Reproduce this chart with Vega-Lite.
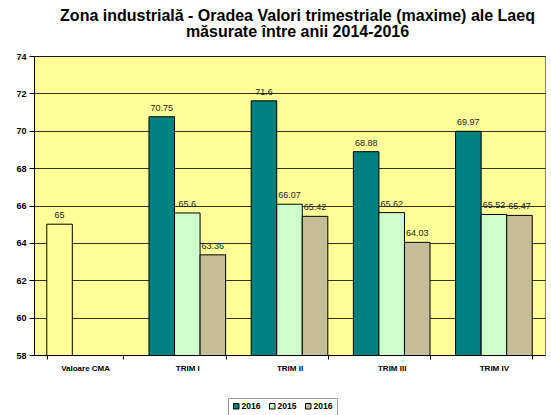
{
  "$schema": "https://vega.github.io/schema/vega-lite/v6.json",
  "width": 511,
  "height": 299,
  "autosize": {"type": "none"},
  "padding": {"left": 34, "top": 56, "right": 6, "bottom": 60},
  "background": "white",
  "title": {
    "text": ["Zona industrială - Oradea Valori trimestriale (maxime) ale Laeq", "măsurate între anii 2014-2016"],
    "font": "Liberation Sans",
    "fontSize": 16,
    "fontWeight": "bold",
    "color": "black",
    "anchor": "middle",
    "dx": 8,
    "offset": 12,
    "lineHeight": 16
  },
  "data": {
    "values": [
      {"cat": "Valoare CMA", "slot": "A", "key": "CMA", "value": 65},
      {"cat": "TRIM I", "slot": "A", "key": "A", "value": 70.75},
      {"cat": "TRIM I", "slot": "B", "key": "B", "value": 65.6},
      {"cat": "TRIM I", "slot": "C", "key": "C", "value": 63.36},
      {"cat": "TRIM II", "slot": "A", "key": "A", "value": 71.6},
      {"cat": "TRIM II", "slot": "B", "key": "B", "value": 66.07},
      {"cat": "TRIM II", "slot": "C", "key": "C", "value": 65.42},
      {"cat": "TRIM III", "slot": "A", "key": "A", "value": 68.88},
      {"cat": "TRIM III", "slot": "B", "key": "B", "value": 65.62},
      {"cat": "TRIM III", "slot": "C", "key": "C", "value": 64.03},
      {"cat": "TRIM IV", "slot": "A", "key": "A", "value": 69.97},
      {"cat": "TRIM IV", "slot": "B", "key": "B", "value": 65.52},
      {"cat": "TRIM IV", "slot": "C", "key": "C", "value": 65.47}
    ]
  },
  "encoding": {
    "x": {
      "field": "cat",
      "type": "nominal",
      "sort": ["Valoare CMA", "TRIM I", "TRIM II", "TRIM III", "TRIM IV"],
      "scale": {"paddingInner": 0.25, "paddingOuter": 0.125},
      "axis": {
        "title": null,
        "labelAngle": 0,
        "labelFont": "Liberation Sans",
        "labelFontSize": 8,
        "labelFontWeight": "bold",
        "labelColor": "black",
        "labelPadding": 5,
        "tickBand": "extent",
        "tickColor": "black",
        "tickSize": 4,
        "domainColor": "black",
        "grid": false
      }
    },
    "xOffset": {"field": "slot", "type": "nominal", "scale": {"domain": ["A", "B", "C"]}},
    "y": {
      "field": "value",
      "type": "quantitative",
      "scale": {"domain": [58, 74], "zero": false, "nice": false},
      "axis": {
        "title": null,
        "values": [58, 60, 62, 64, 66, 68, 70, 72, 74],
        "labelFont": "Liberation Sans",
        "labelFontSize": 9,
        "labelFontWeight": "bold",
        "labelColor": "black",
        "labelPadding": 3,
        "tickColor": "black",
        "tickSize": 5,
        "domainColor": "black",
        "gridColor": "black",
        "gridWidth": 0.8,
        "gridOpacity": 1
      }
    }
  },
  "layer": [
    {
      "mark": {"type": "bar", "stroke": "black", "strokeWidth": 1, "clip": true},
      "encoding": {
        "color": {
          "field": "key",
          "type": "nominal",
          "scale": {"domain": ["A", "B", "C", "CMA"], "range": ["#008080", "#CCFFCC", "#C4BD97", "#FFFF99"]},
          "legend": {
            "values": ["A", "B", "C"],
            "labelExpr": "datum.value == 'B' ? '2015' : '2016'",
            "title": null,
            "orient": "none",
            "legendX": 194,
            "legendY": 342,
            "direction": "horizontal",
            "symbolType": "square",
            "symbolSize": 30,
            "symbolStrokeColor": "black",
            "symbolStrokeWidth": 1,
            "symbolOpacity": 1,
            "labelFont": "Liberation Sans",
            "labelFontSize": 8.5,
            "labelFontWeight": "bold",
            "labelColor": "black",
            "labelOffset": 1,
            "columnPadding": 6,
            "strokeColor": "#999999",
            "padding": 4
          }
        }
      }
    },
    {
      "mark": {"type": "text", "dy": -9, "font": "Liberation Sans", "fontSize": 9, "color": "#222222"},
      "encoding": {
        "text": {"field": "value", "type": "quantitative", "format": ".4~r"}
      }
    }
  ],
  "config": {
    "view": {"fill": "#FFFF99", "stroke": "#808080"}
  }
}
